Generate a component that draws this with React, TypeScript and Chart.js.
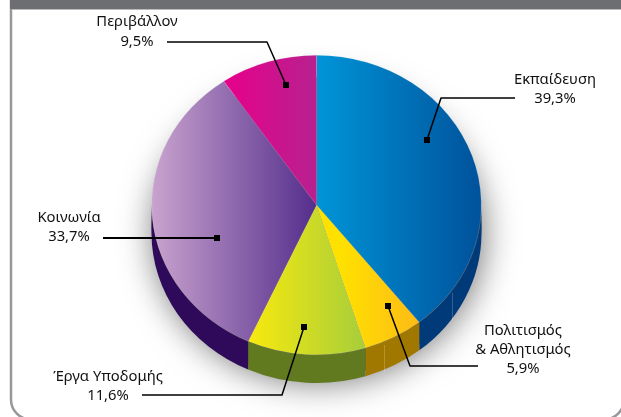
import React, { useEffect, useRef } from "react";
import { Chart, registerables } from "chart.js";

Chart.register(...registerables);

const categories = ["Εκπαίδευση", "Πολιτισμός & Αθλητισμός", "Έργα Υποδομής", "Κοινωνία", "Περιβάλλον"];
const shares = [39.3, 5.9, 11.6, 33.7, 9.5];
const shareLabels = ["39,3%", "5,9%", "11,6%", "33,7%", "9,5%"];

const CX = 316.5;
const CY = 205;
const RX = 165;
const RY = 150;
const DEPTH = 28;
const FONT = '14.8px "Noto Sans", sans-serif';

const faceStops: [number, number, string, string][] = [
  [316, 481, "#0095d8", "#00529b"],
  [340, 420, "#ffe100", "#fdbb16"],
  [250, 368, "#f7e90e", "#a5cd3c"],
  [152, 316, "#c9a3ce", "#542e8c"],
  [223, 316, "#e8008b", "#b7218f"],
];
const sideColors = ["#003a78", "#a07800", "#617a20", "#2f0a5a", "#8c0f66"];

const callouts = [
  { lines: ["Εκπαίδευση", "39,3%"], x: 555, y: [80, 99], path: [[515, 98], [441, 98], [427, 140]], w: 1.5 },
  { lines: ["Πολιτισμός", "& Αθλητισμός", "5,9%"], x: 523, y: [331, 350, 369], path: [[478, 366], [410, 366], [388, 306]], w: 1.5 },
  { lines: ["Έργα Υποδομής", "11,6%"], x: 108, y: [377, 396], path: [[142, 395], [282, 395], [304, 327]], w: 1.5 },
  { lines: ["Κοινωνία", "33,7%"], x: 69, y: [218, 237], path: [[103, 238], [217, 238]], w: 2 },
  { lines: ["Περιβάλλον", "9,5%"], x: 137, y: [22, 42], path: [[167, 42], [267, 42], [286, 85]], w: 1.5 },
];

const framePlugin = {
  id: "frame",
  beforeDraw(chart: any) {
    const c = chart.ctx;
    c.save();
    c.fillStyle = "#ffffff";
    c.fillRect(0, 0, 621, 417);
    c.strokeStyle = "#97989b";
    c.lineWidth = 2.5;
    c.beginPath();
    c.roundRect(11, -40, 613, 459.5, 20);
    c.stroke();
    c.fillStyle = "#6d6e71";
    c.fillRect(10, 0, 611, 9);
    c.fillStyle = "#b9babc";
    c.fillRect(12, 9, 609, 1);
    c.restore();
  },
};

const solidPlugin = {
  id: "solid",
  beforeDatasetsDraw(chart: any) {
    const c = chart.ctx;
    const arcs = chart.getDatasetMeta(0).data;
    c.save();
    c.save();
    c.shadowColor = "rgba(0,0,0,0.55)";
    c.shadowBlur = 34;
    c.shadowOffsetX = 2;
    c.shadowOffsetY = 6;
    c.fillStyle = "#555";
    c.beginPath();
    c.ellipse(CX, CY + DEPTH - 6, RX, RY, 0, 0, Math.PI * 2);
    c.fill();
    c.restore();
    arcs.forEach((arc: any, i: number) => {
      const a = Math.max(arc.startAngle, 0);
      const b = Math.min(arc.endAngle, Math.PI);
      c.fillStyle = sideColors[i];
      c.beginPath();
      if (b > a) {
        c.ellipse(CX, CY, RX, RY, 0, a, b);
        c.ellipse(CX, CY + DEPTH, RX, RY, 0, b, a, true);
        c.closePath();
        c.fill();
      }
    });
    c.strokeStyle = "rgba(255,255,255,0.2)";
    c.lineWidth = 1;
    [[452.5, 293], [384.5, 345]].forEach(([x, y]) => {
      c.beginPath();
      c.moveTo(x, y);
      c.lineTo(x, y + DEPTH - 1);
      c.stroke();
    });
    c.restore();
    c.save();
    c.translate(0, CY);
    c.scale(1, RY / RX);
    c.translate(0, -CY);
  },
  afterDatasetsDraw(chart: any) {
    chart.ctx.restore();
  },
};

const calloutPlugin = {
  id: "callouts",
  afterDraw(chart: any) {
    const c = chart.ctx;
    c.save();
    c.font = FONT;
    c.textAlign = "center";
    c.textBaseline = "middle";
    callouts.forEach((o) => {
      c.fillStyle = "#111111";
      o.lines.forEach((t, i) => c.fillText(t, o.x, o.y[i]));
      c.strokeStyle = "#000";
      c.lineWidth = o.w;
      c.lineJoin = "round";
      c.beginPath();
      o.path.forEach(([x, y], i) => (i ? c.lineTo(x, y) : c.moveTo(x, y)));
      c.stroke();
      const [ax, ay] = o.path[o.path.length - 1];
      c.fillStyle = "#000";
      c.fillRect(ax - 3, ay - 3, 6, 6);
    });
    c.restore();
  },
};

export default function App() {
  const ref = useRef<HTMLCanvasElement>(null);
  useEffect(() => {
    document.body.style.margin = "0";
    const canvas = ref.current!;
    const ctx = canvas.getContext("2d")!;
    const fills = faceStops.map(([x0, x1, c0, c1]) => {
      const g = ctx.createLinearGradient(x0, 0, x1, 0);
      g.addColorStop(0, c0);
      g.addColorStop(1, c1);
      return g;
    });
    const chart = new Chart(canvas, {
      type: "pie",
      data: {
        labels: categories,
        datasets: [{ data: shares, backgroundColor: fills, borderWidth: 0.5, borderColor: "rgba(255,255,255,0.25)" }],
      },
      options: {
        responsive: false,
        animation: false,
        layout: { padding: { left: 12, right: 0, top: 40, bottom: 47 } },
        plugins: { legend: { display: false }, tooltip: { enabled: false } },
      },
      plugins: [framePlugin, solidPlugin, calloutPlugin],
    });
    return () => chart.destroy();
  }, []);
  return (
    <canvas
      ref={ref}
      width={621}
      height={417}
      style={{ display: "block", width: 621, height: 417 }}
      aria-label={shareLabels.join(" ")}
    />
  );
}
